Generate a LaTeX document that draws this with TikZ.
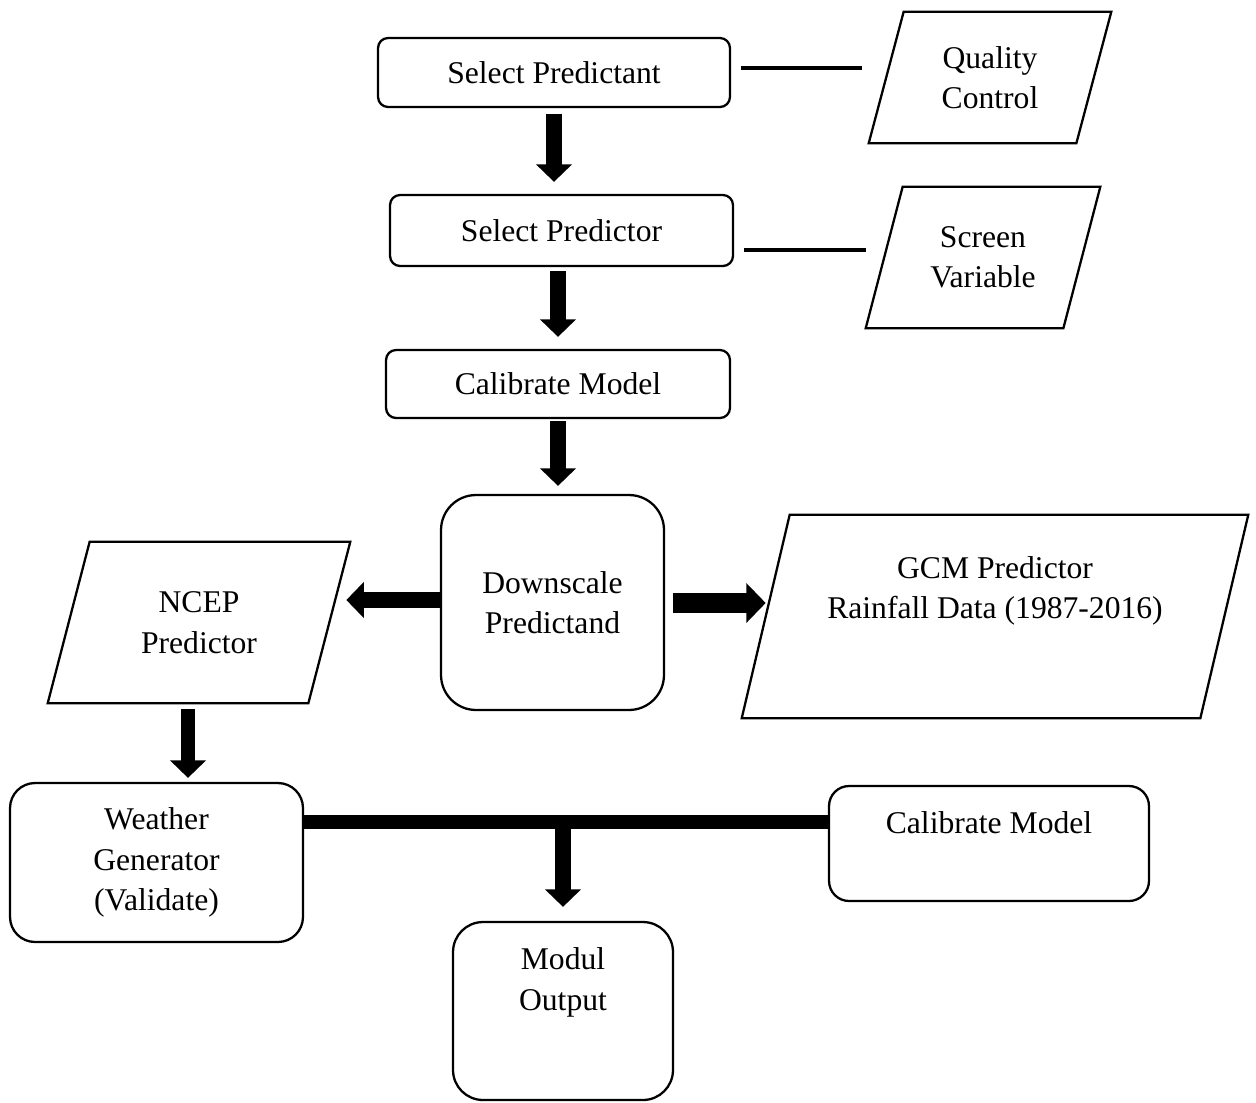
\documentclass[tikz,border=0pt]{standalone}
\usepackage{fontspec}
\setmainfont{Liberation Serif}
\usetikzlibrary{arrows.meta}
\tikzset{
  box/.style={rectangle, rounded corners=0.2cm, draw=black, line width=1.3pt,
    align=center, inner sep=2pt, font=\fontsize{18}{23}\selectfont},
  data/.style={rectangle, align=center, inner sep=2pt, font=\fontsize{18}{23}\selectfont},
  txt/.style={align=center, inner sep=0pt, font=\fontsize{18}{23}\selectfont},
  edge/.style={draw=black, line width=1.3pt, line join=miter},
  flow/.style={-{Triangle[width=20pt,length=10pt]}, line width=9pt},
  link/.style={line width=2.3pt},
  bus/.style={line width=7.5pt},
}
% parallelogram round a data node: #1 node, #2 slant offset
\newcommand{\parashape}[2]{%
  \draw[edge] ([xshift=-#2/2]#1.south west) -- ([xshift=#2/2]#1.north west)
    -- ([xshift=#2/2]#1.north east) -- ([xshift=-#2/2]#1.south east) -- cycle;}
\begin{document}
\begin{tikzpicture}[x=0.02cm, y=-0.02cm]
  \useasboundingbox (0,0) rectangle (1256,1102);
  % main column
  \node[box, minimum width=7.04cm, minimum height=1.38cm] (pred) at (554,72.5) {Select Predictant};
  \node[box, minimum width=6.86cm, minimum height=1.42cm] (predr) at (561.5,230.5) {Select Predictor};
  \node[box, minimum width=6.88cm, minimum height=1.36cm] (calib) at (558,384) {Calibrate Model};
  \node[box, rounded corners=0.7cm, minimum width=4.46cm, minimum height=4.3cm] (down) at (552.5,602.5) {Downscale\\Predictand};
  % data inputs
  \node[data, minimum width=4.14cm, minimum height=2.62cm] (qc) at (990,77.5) {Quality\\Control};
  \node[data, minimum width=3.94cm, minimum height=2.82cm] (sv) at (983,257.5) {Screen\\Variable};
  \node[data, minimum width=5.2cm, minimum height=3.22cm] (ncep) at (199,622.5) {NCEP\\Predictor};
  \node[data, minimum width=9.16cm, minimum height=4.06cm] (gcm) at (995,616.5) {};
  \node[txt] (gcmtxt) at (995,591) {GCM Predictor\\Rainfall Data (1987-2016)};
  \parashape{qc}{0.7cm}
  \parashape{sv}{0.74cm}
  \parashape{ncep}{0.84cm}
  \parashape{gcm}{0.96cm}
  % bottom row
  \node[box, rounded corners=0.5cm, minimum width=5.86cm, minimum height=3.18cm] (weather) at (156.5,862.5) {Weather\\Generator\\(Validate)};
  \node[box, rounded corners=0.4cm, minimum width=6.4cm, minimum height=2.3cm] (cal2) at (989,843.5) {};
  \node[txt] (cal2txt) at (989,823) {Calibrate Model};
  \node[box, rounded corners=0.6cm, minimum width=4.4cm, minimum height=3.56cm] (modul) at (563,1011) {};
  \node[txt] (modultxt) at (563,982.5) {Modul\\Output};
  % connectors
  \draw[link, shorten <=0.2cm, shorten >=0.49cm] (pred.east |- 0,68) -- (qc.west |- 0,68);
  \draw[link, shorten <=0.2cm, shorten >=0.37cm] (predr.east |- 0,250) -- (sv.west |- 0,250);
  \draw[flow, shorten <=0.12cm, shorten >=0.24cm] (pred.south) -- (pred.south |- predr.north);
  \draw[flow, shorten <=0.08cm, shorten >=0.24cm] (calib.north |- predr.south) -- (calib.north);
  \draw[flow, shorten <=0.04cm, shorten >=0.16cm] (calib.south) -- (calib.south |- down.north);
  \draw[flow, shorten >=0.34cm] (down.west |- 0,600) -- (ncep.east |- 0,600);
  \draw[flow, line width=11pt, -{Triangle[width=22pt,length=11pt]}, shorten <=0.16cm] (down.east |- 0,603) -- (gcm.west |- 0,603);
  \draw[flow, line width=8pt, shorten <=0.12cm, shorten >=0.08cm] ([xshift=-0.22cm]ncep.south) -- ([xshift=-0.22cm]ncep.south |- weather.north);
  \draw[bus] (weather.east |- 0,822) -- (cal2.west |- 0,822);
  \draw[flow, shorten >=0.28cm] (modul.north |- 0,822) -- (modul.north);
\end{tikzpicture}
\end{document}
